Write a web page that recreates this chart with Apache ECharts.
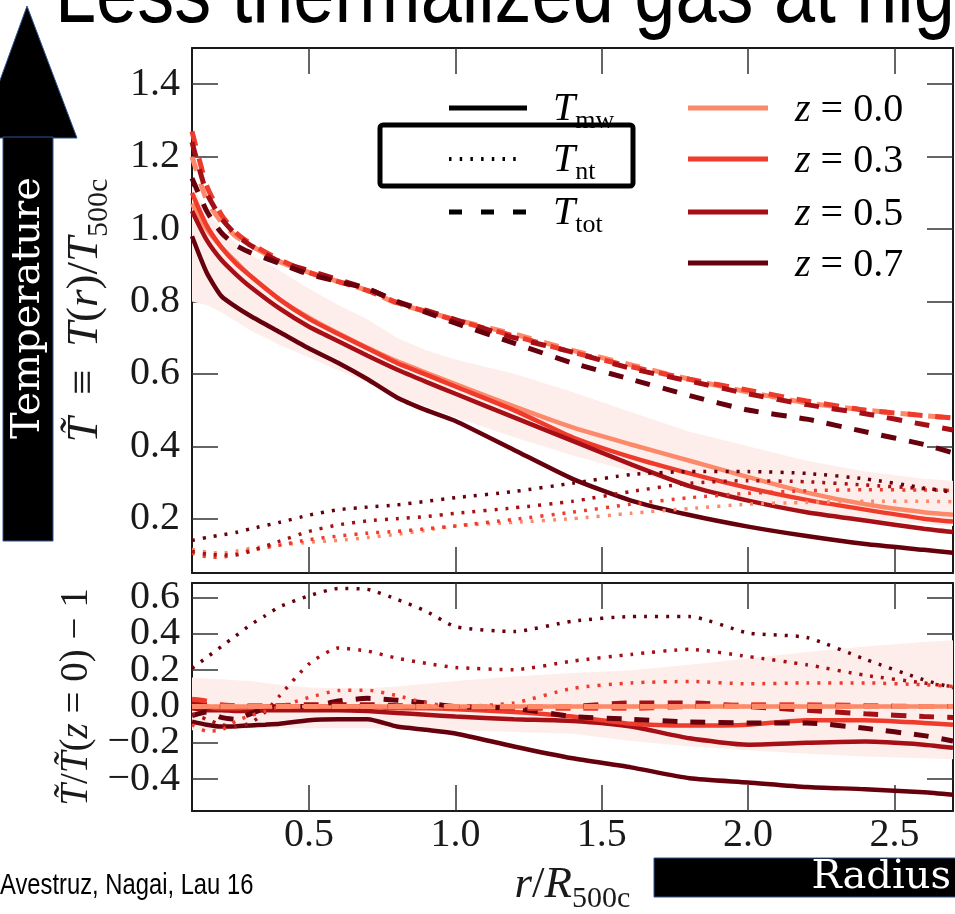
<!DOCTYPE html>
<html>
<head>
<meta charset="utf-8">
<script src="https://cdn.jsdelivr.net/npm/echarts@6/dist/echarts.min.js"></script>
<style>
  html, body { margin: 0; padding: 0; background: #ffffff; }
  #chart { width: 955px; height: 914px; }
</style>
</head>
<body>
<div id="chart"></div>
<script>
// ---- Radial temperature profiles, T(r)/T500c ----
const R_PROFILE = [0.1, 0.15, 0.2, 0.25, 0.3, 0.4, 0.5, 0.6, 0.7, 0.8, 0.9, 1.0, 1.2, 1.4, 1.6, 1.8, 2.0, 2.2, 2.4, 2.6, 2.7];

// mass-weighted temperature
const TMW_Z00 = [1.07, 1.0, 0.95, 0.91, 0.87, 0.805, 0.755, 0.712, 0.672, 0.635, 0.603, 0.572, 0.51, 0.452, 0.405, 0.36, 0.315, 0.272, 0.24, 0.218, 0.211];
const TMW_Z03 = [1.1, 1.01, 0.95, 0.905, 0.87, 0.805, 0.752, 0.71, 0.67, 0.63, 0.598, 0.565, 0.5, 0.425, 0.37, 0.325, 0.285, 0.252, 0.225, 0.2, 0.192];
const TMW_Z05 = [1.05, 0.97, 0.915, 0.875, 0.84, 0.78, 0.73, 0.69, 0.65, 0.612, 0.578, 0.545, 0.48, 0.415, 0.35, 0.29, 0.25, 0.218, 0.195, 0.172, 0.163];
const TMW_Z07 = [0.98, 0.88, 0.815, 0.785, 0.76, 0.715, 0.67, 0.63, 0.585, 0.535, 0.5, 0.47, 0.39, 0.31, 0.25, 0.21, 0.178, 0.152, 0.13, 0.114, 0.106];

// non-thermal temperature
const TNT_Z00 = [0.115, 0.108, 0.105, 0.11, 0.118, 0.127, 0.135, 0.14, 0.148, 0.157, 0.168, 0.18, 0.19, 0.2, 0.215, 0.228, 0.24, 0.245, 0.248, 0.248, 0.247];
const TNT_Z03 = [0.105, 0.095, 0.093, 0.102, 0.113, 0.127, 0.142, 0.152, 0.16, 0.165, 0.172, 0.18, 0.198, 0.218, 0.24, 0.258, 0.27, 0.277, 0.28, 0.279, 0.278];
const TNT_Z05 = [0.11, 0.102, 0.1, 0.1, 0.11, 0.138, 0.165, 0.183, 0.194, 0.2, 0.206, 0.215, 0.23, 0.248, 0.275, 0.298, 0.305, 0.302, 0.293, 0.283, 0.277];
const TNT_Z07 = [0.14, 0.148, 0.155, 0.162, 0.172, 0.19, 0.21, 0.225, 0.232, 0.238, 0.248, 0.258, 0.275, 0.298, 0.322, 0.33, 0.33, 0.325, 0.31, 0.285, 0.273];

// total temperature
const TTOT_Z00 = [1.2, 1.08, 1.02, 0.98, 0.955, 0.91, 0.88, 0.855, 0.83, 0.795, 0.772, 0.75, 0.71, 0.665, 0.625, 0.585, 0.55, 0.52, 0.5, 0.485, 0.478];
const TTOT_Z03 = [1.27, 1.12, 1.04, 0.99, 0.96, 0.915, 0.88, 0.855, 0.83, 0.797, 0.772, 0.748, 0.705, 0.66, 0.62, 0.585, 0.555, 0.525, 0.5, 0.485, 0.478];
const TTOT_Z05 = [1.24, 1.1, 1.03, 0.985, 0.955, 0.91, 0.885, 0.86, 0.835, 0.8, 0.775, 0.75, 0.7, 0.66, 0.615, 0.58, 0.545, 0.515, 0.49, 0.46, 0.445];
const TTOT_Z07 = [1.14, 1.05, 0.99, 0.955, 0.935, 0.905, 0.875, 0.855, 0.835, 0.8, 0.77, 0.74, 0.685, 0.63, 0.585, 0.54, 0.5, 0.475, 0.44, 0.405, 0.382];

// scatter of the z = 0 mass-weighted profile
const BAND_TOP_LO = [0.8, 0.79, 0.77, 0.745, 0.72, 0.68, 0.645, 0.61, 0.575, 0.54, 0.51, 0.48, 0.425, 0.375, 0.33, 0.29, 0.255, 0.225, 0.2, 0.185, 0.18];
const BAND_TOP_HI = [1.12, 1.05, 1.0, 0.96, 0.93, 0.885, 0.835, 0.79, 0.75, 0.7, 0.665, 0.64, 0.6, 0.55, 0.495, 0.44, 0.4, 0.36, 0.33, 0.31, 0.305];

// ---- Evolution relative to z = 0 ----
const R_RATIO = [0.1, 0.15, 0.2, 0.25, 0.3, 0.35, 0.4, 0.5, 0.6, 0.7, 0.8, 0.9, 1.0, 1.2, 1.4, 1.6, 1.8, 2.0, 2.2, 2.4, 2.6, 2.7];
const RATIO_REF = [0, 0, 0, 0, 0, 0, 0, 0, 0, 0, 0, 0, 0, 0, 0, 0, 0, 0, 0, 0, 0, 0];
const DMW_Z03 = [0.02, 0.0, -0.01, -0.01, -0.005, 0.0, 0.0, 0.0, 0.0, 0.0, -0.01, -0.01, -0.015, -0.03, -0.055, -0.095, -0.105, -0.1, -0.075, -0.075, -0.09, -0.1];
const DMW_Z05 = [-0.01, -0.02, -0.02, -0.025, -0.025, -0.02, -0.02, -0.02, -0.02, -0.025, -0.035, -0.045, -0.055, -0.07, -0.08, -0.11, -0.175, -0.21, -0.2, -0.193, -0.21, -0.227];
const DMW_Z07 = [-0.083, -0.1, -0.11, -0.108, -0.104, -0.1, -0.095, -0.075, -0.07, -0.07, -0.11, -0.128, -0.148, -0.22, -0.285, -0.335, -0.395, -0.418, -0.443, -0.455, -0.472, -0.486];
const DNT_Z03 = [-0.1, -0.135, -0.13, -0.08, -0.05, -0.025, 0.0, 0.05, 0.088, 0.09, 0.06, 0.02, 0.0, 0.02, 0.1, 0.13, 0.138, 0.125, 0.13, 0.13, 0.12, 0.11];
const DNT_Z05 = [-0.04, -0.07, -0.1, -0.11, -0.09, -0.03, 0.06, 0.235, 0.322, 0.305, 0.266, 0.238, 0.215, 0.203, 0.25, 0.287, 0.315, 0.275, 0.23, 0.172, 0.13, 0.11];
const DNT_Z07 = [0.21, 0.27, 0.33, 0.39, 0.45, 0.5, 0.55, 0.61, 0.65, 0.645, 0.59, 0.525, 0.44, 0.413, 0.47, 0.495, 0.495, 0.405, 0.38, 0.26, 0.147, 0.103];
const DTOT_Z03 = [0.04, 0.03, 0.01, 0.005, 0.005, 0.005, 0.005, 0.0, 0.0, 0.0, 0.0, 0.0, -0.005, -0.01, -0.01, -0.01, 0.0, 0.01, 0.01, 0.005, 0.0, 0.0];
const DTOT_Z05 = [0.02, 0.01, 0.0, 0.0, 0.0, 0.0, 0.005, 0.01, 0.01, 0.01, 0.005, 0.0, -0.005, -0.01, 0.0, 0.02, 0.02, 0.0, -0.02, -0.04, -0.055, -0.06];
const DTOT_Z07 = [-0.05, -0.03, -0.06, -0.07, -0.04, -0.01, 0.0, 0.0, 0.03, 0.045, 0.035, 0.02, 0.0, -0.01, -0.055, -0.07, -0.085, -0.09, -0.09, -0.12, -0.16, -0.19];
const BAND_RATIO_LO = [-0.13, -0.13, -0.13, -0.125, -0.12, -0.12, -0.12, -0.12, -0.12, -0.12, -0.122, -0.125, -0.13, -0.14, -0.15, -0.19, -0.22, -0.24, -0.26, -0.275, -0.285, -0.29];
const BAND_RATIO_HI = [0.16, 0.155, 0.15, 0.145, 0.14, 0.13, 0.12, 0.105, 0.1, 0.1, 0.11, 0.125, 0.14, 0.165, 0.185, 0.2, 0.23, 0.265, 0.3, 0.33, 0.355, 0.365];

// ---- Tick values ----
const R_TICKS = [0.5, 1.0, 1.5, 2.0, 2.5];
const T_TICKS = [0.2, 0.4, 0.6, 0.8, 1.0, 1.2, 1.4];
const RATIO_TICKS = [-0.4, -0.2, 0.0, 0.2, 0.4, 0.6];
// the ratio labels are tightly packed, so they are split over two label rows
const RATIO_LABELS_A = [-0.4, 0.0, 0.4];
const RATIO_LABELS_B = [-0.2, 0.2, 0.6];

const Z_LABELS = ['0.0', '0.3', '0.5', '0.7'];
const Z_COLORS = ['#fc8a6a', '#ef3b2c', '#a50f15', '#67000d'];

const SERIF = "'Liberation Serif', 'DejaVu Serif', serif";
const SANS = "'Liberation Sans', Arial, sans-serif";

const LINE_KIND = {
  mw:  { type: 'solid',  width: 4.5 },
  nt:  { type: [3, 8],   width: 3.5 },
  tot: { type: [15, 13], width: 5 }
};

const pts = (xs, ys) => xs.map((x, i) => [x, ys[i]]);

function profile(name, xs, ys, color, kind, panel) {
  return {
    name: name, type: 'line',
    xAxisIndex: panel * 2, yAxisIndex: panel * 2,
    data: pts(xs, ys),
    symbol: 'none', showSymbol: false,
    smooth: 0.2,
    lineStyle: { color: color, width: LINE_KIND[kind].width, type: LINE_KIND[kind].type, cap: 'butt' },
    itemStyle: { color: color },
    silent: true,
    z: kind === 'mw' ? 3 : 4
  };
}

// shaded scatter band: one polygon placed through the axis scales
function band(name, xs, lo, hi, panel, color) {
  return {
    name: name, type: 'custom',
    xAxisIndex: panel * 2, yAxisIndex: panel * 2,
    data: xs.map((x, i) => [x, lo[i], hi[i]]),
    encode: { x: 0, y: [1, 2] },
    silent: true, z: 1,
    renderItem: function (params, api) {
      if (params.dataIndex !== 0) return null;
      const upper = xs.map((x, i) => api.coord([x, hi[i]]));
      const lower = xs.map((x, i) => api.coord([x, lo[i]])).reverse();
      return { type: 'polygon', shape: { points: upper.concat(lower) }, style: { fill: color } };
    }
  };
}

const fmt = v => v.toFixed(1).replace('-', '\u2212');

function mathRich(size, subSize, drop) {
  return {
    it:  { fontFamily: SERIF, fontStyle: 'italic', fontSize: size, lineHeight: size + 8, color: '#1a1a1a' },
    rm:  { fontFamily: SERIF, fontSize: size, lineHeight: size + 8, color: '#1a1a1a' },
    sub: { fontFamily: SERIF, fontSize: subSize, lineHeight: subSize, padding: [drop, 0, 0, 0], color: '#1a1a1a' }
  };
}
const RICH_LEGEND = mathRich(40, 26, 24);
const RICH_NAME = mathRich(45, 30, 27);
const RICH_RATIO = mathRich(39, 26, 24);

const FRAME = { show: true, onZero: false, lineStyle: { color: '#1a1a1a', width: 2 } };
const NO_LINE = { show: false, onZero: false };
const tick = vals => ({ show: true, inside: true, length: 26, customValues: vals, lineStyle: { color: '#333333', width: 1.5 } });
const label = vals => ({
  show: true, customValues: vals, interval: 0, formatter: fmt,
  fontFamily: SERIF, fontSize: 40, lineHeight: 24,
  color: '#1a1a1a', margin: 12, hideOverlap: false, showMinLabel: true, showMaxLabel: true
});

const xAxisFor = (grid, position, withLabels, name) => ({
  type: 'value', gridIndex: grid, position: position, min: 0.1, max: 2.7,
  axisLine: FRAME, axisTick: tick(R_TICKS),
  axisLabel: withLabels ? label(R_TICKS) : { show: false },
  splitLine: { show: false },
  name: name || '', nameLocation: 'middle', nameGap: 48,
  nameTextStyle: { rich: RICH_NAME }
});
const yAxisFor = (grid, position, min, max, ticks, labels, name, gap, rich) => ({
  type: 'value', gridIndex: grid, position: position, min: min, max: max,
  axisLine: ticks ? FRAME : NO_LINE,
  axisTick: ticks ? tick(ticks) : { show: false },
  axisLabel: labels ? label(labels) : { show: false },
  splitLine: { show: false },
  name: name || '', nameLocation: 'middle', nameRotate: 90, nameGap: gap || 0,
  nameTextStyle: { rich: rich || RICH_NAME }
});

const series = [];
series.push(band('scatter-top', R_PROFILE, BAND_TOP_LO, BAND_TOP_HI, 0, '#fdeeeb'));
series.push(band('scatter-ratio', R_RATIO, BAND_RATIO_LO, BAND_RATIO_HI, 1, '#fdeeeb'));

const TMW = [TMW_Z00, TMW_Z03, TMW_Z05, TMW_Z07];
const TNT = [TNT_Z00, TNT_Z03, TNT_Z05, TNT_Z07];
const TTOT = [TTOT_Z00, TTOT_Z03, TTOT_Z05, TTOT_Z07];
const DMW = [RATIO_REF, DMW_Z03, DMW_Z05, DMW_Z07];
const DNT = [RATIO_REF, DNT_Z03, DNT_Z05, DNT_Z07];
const DTOT = [RATIO_REF, DTOT_Z03, DTOT_Z05, DTOT_Z07];

for (let k = 0; k < 4; k++) {
  const c = Z_COLORS[k], z = Z_LABELS[k];
  series.push(profile('T_mw z=' + z, R_PROFILE, TMW[k], c, 'mw', 0));
  series.push(profile('T_nt z=' + z, R_PROFILE, TNT[k], c, 'nt', 0));
  series.push(profile('T_tot z=' + z, R_PROFILE, TTOT[k], c, 'tot', 0));
}
for (let k = 3; k >= 0; k--) {
  const c = Z_COLORS[k], z = Z_LABELS[k];
  series.push(profile('ratio T_mw z=' + z, R_RATIO, DMW[k], c, 'mw', 1));
  series.push(profile('ratio T_nt z=' + z, R_RATIO, DNT[k], c, 'nt', 1));
  series.push(profile('ratio T_tot z=' + z, R_RATIO, DTOT[k], c, 'tot', 1));
}

// ---- Legend drawn as graphics ----
const LEG_Y = [108, 159, 212, 263];
const legend = [];
const kindRows = [
  { sub: 'mw',  dash: null,       width: 5, x2: 527 },
  { sub: 'nt',  dash: [2.5, 8.2], width: 4, x2: 518 },
  { sub: 'tot', dash: [13, 19],   width: 5, x2: 527 }
];
kindRows.forEach((r, i) => {
  legend.push({
    type: 'line', z: 100, shape: { x1: 449, y1: LEG_Y[i], x2: r.x2, y2: LEG_Y[i] },
    style: { stroke: '#000', lineWidth: r.width, lineDash: r.dash }
  });
  legend.push({
    type: 'text', z: 100, x: 553, y: LEG_Y[i] + 1,
    style: {
      text: '{it|T}{sub|' + r.sub + '}', rich: RICH_LEGEND,
      align: 'left', verticalAlign: 'middle'
    }
  });
});
Z_LABELS.forEach((z, i) => {
  legend.push({
    type: 'line', z: 100, shape: { x1: 688, y1: LEG_Y[i], x2: 768, y2: LEG_Y[i] },
    style: { stroke: Z_COLORS[i], lineWidth: 5 }
  });
  legend.push({
    type: 'text', z: 100, x: 795, y: LEG_Y[i] + 2,
    style: {
      text: '{it|z}{rm| = ' + z + '}', rich: RICH_LEGEND,
      align: 'left', verticalAlign: 'middle'
    }
  });
});
legend.push({
  type: 'rect', z: 100, shape: { x: 380, y: 125, width: 253, height: 61, r: 3 },
  style: { fill: 'none', stroke: '#000', lineWidth: 5 }
});

const graphics = [
  {
    type: 'text', z: 100, x: 55, y: -2, scaleX: 0.84,
    style: {
      text: 'Less thermalized gas at higher redshift', fill: '#000',
      fontFamily: SANS, fontSize: 88, align: 'left', verticalAlign: 'middle'
    }
  },
  {
    type: 'polygon', z: 100, shape: { points: [[-21, 138], [77, 138], [27, 6]] },
    style: { fill: '#000', stroke: '#2f5597', lineWidth: 1 }
  },
  {
    type: 'rect', z: 100, shape: { x: 3, y: 137, width: 50, height: 404 },
    style: { fill: '#000', stroke: '#2f5597', lineWidth: 1 }
  },
  {
    type: 'text', z: 101, x: 29, y: 308, rotation: Math.PI / 2,
    style: {
      text: 'Temperature', fill: '#fff', fontFamily: "'DejaVu Serif', serif", fontSize: 40,
      align: 'center', verticalAlign: 'middle'
    }
  },
  {
    type: 'rect', z: 100, shape: { x: 654, y: 858, width: 305, height: 39 },
    style: { fill: '#000', stroke: '#2f5597', lineWidth: 1 }
  },
  {
    type: 'text', z: 101, x: 951, y: 878,
    style: {
      text: 'Radius', fill: '#fff', fontFamily: "'DejaVu Serif', serif", fontSize: 40,
      align: 'right', verticalAlign: 'middle'
    }
  },
  {
    type: 'text', z: 100, x: 0, y: 886, scaleX: 0.82,
    style: {
      text: 'Avestruz, Nagai, Lau 16', fill: '#000', fontFamily: SANS, fontSize: 29,
      align: 'left', verticalAlign: 'middle'
    }
  }
].concat(legend);

const chart = echarts.init(document.getElementById('chart'), null, { renderer: 'canvas', width: 955, height: 914 });
chart.setOption({
  animation: false,
  backgroundColor: '#ffffff',
  grid: [
    { left: 192, top: 48, width: 761, height: 525, containLabel: false, outerBoundsMode: 'none' },
    { left: 192, top: 583, width: 761, height: 228, containLabel: false, outerBoundsMode: 'none' }
  ],
  xAxis: [
    xAxisFor(0, 'bottom', false),
    xAxisFor(0, 'top', false),
    xAxisFor(1, 'bottom', true, '{it|r}{rm|/}{it|R}{sub|500c}'),
    xAxisFor(1, 'top', false)
  ],
  yAxis: [
    yAxisFor(0, 'left', 0.05, 1.5, T_TICKS, T_TICKS,
      '{it|T\u0303}{rm|  \u2261  }{it|T}{rm|(}{it|r}{rm|)/}{it|T}{sub|500c}', 80),
    yAxisFor(0, 'right', 0.05, 1.5, T_TICKS, null),
    yAxisFor(1, 'left', -0.575, 0.68, RATIO_TICKS, RATIO_LABELS_A,
      '{it|T\u0303}{rm|/}{it|T\u0303}{rm|(}{it|z}{rm| = 0) \u2212 1}', 82, RICH_RATIO),
    yAxisFor(1, 'right', -0.575, 0.68, RATIO_TICKS, null),
    yAxisFor(1, 'left', -0.575, 0.68, null, RATIO_LABELS_B)
  ],
  series: series,
  graphic: graphics
});
</script>
</body>
</html>
